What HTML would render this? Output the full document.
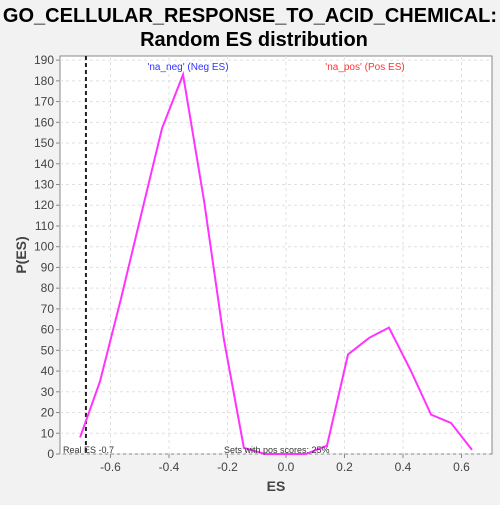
<!DOCTYPE html>
<html><head><meta charset="utf-8"><style>
body{margin:0;background:#f2f2f2;width:500px;height:500px;overflow:hidden;font-family:"Liberation Sans",sans-serif}
</style></head><body>
<svg width="500" height="500">
<text x="250" y="22" text-anchor="middle" font-size="20" font-weight="bold">GO_CELLULAR_RESPONSE_TO_ACID_CHEMICAL:</text>
<text x="254" y="46" text-anchor="middle" font-size="20" font-weight="bold">Random ES distribution</text>
<rect x="60" y="56" width="432" height="398" fill="#fff" stroke="#888"/>
<g id="grid"></g><g id="axes"></g><g id="marks"></g>
<text x="188" y="70" text-anchor="middle" font-size="10" fill="#3333ff">'na_neg' (Neg ES)</text>
<text x="365" y="70" text-anchor="middle" font-size="10" fill="#ff3333">'na_pos' (Pos ES)</text>
<text x="63" y="453" font-size="9" fill="#333">Real ES -0.7</text>
<text x="224" y="453" font-size="9" fill="#333">Sets with pos scores: 25%</text>
<text x="276" y="491" text-anchor="middle" font-size="14" font-weight="bold" fill="#444">ES</text>
<text transform="translate(26,255) rotate(-90)" text-anchor="middle" font-size="14" font-weight="bold" fill="#444">P(ES)</text>
</svg>
<script>
const esValues=[-0.704,-0.636,-0.564,-0.496,-0.424,-0.352,-0.28,-0.212,-0.144,-0.072,0,0.068,0.14,0.212,0.284,0.352,0.424,0.496,0.564,0.636];
const pValues=[8,35,75,115,157,183,122,55,3,0,0,0,4,48,56,61,41,19,15,2];
const xTicks=[-0.6,-0.4,-0.2,0.0,0.2,0.4,0.6];
const yTicks=[0,10,20,30,40,50,60,70,80,90,100,110,120,130,140,150,160,170,180,190];
const realES=-0.684;
const NS="http://www.w3.org/2000/svg";
const X=v=>286+v*292.5, Y=v=>454-v*2.073;
function mk(p,t,a){const e=document.createElementNS(NS,t);for(const k in a)e.setAttribute(k,a[k]);p.appendChild(e);return e;}
const grid=document.getElementById('grid'),axes=document.getElementById('axes'),marks=document.getElementById('marks');
xTicks.forEach(t=>{
 const l=mk(grid,'line',{x1:X(t),x2:X(t),y1:56,y2:454,stroke:'#e0e0e0','stroke-dasharray':'3,3'});
 
 
 mk(axes,'line',{x1:X(t),x2:X(t),y1:454,y2:458,stroke:'#888'});
 const tx=mk(axes,'text',{x:X(t),y:471,'text-anchor':'middle','font-size':12,fill:'#444'});tx.textContent=t.toFixed(1);
 
 
});
yTicks.forEach(t=>{
 const l=mk(grid,'line',{x1:60,x2:492,y1:Y(t),y2:Y(t),stroke:'#e0e0e0','stroke-dasharray':'3,3'});
 
 
 mk(axes,'line',{x1:56,x2:60,y1:Y(t),y2:Y(t),stroke:'#888'});
 const tx=mk(axes,'text',{x:54,y:Y(t)+4,'text-anchor':'end','font-size':12,fill:'#444'});tx.textContent=t;
 
 
});
const rl=mk(marks,'line',{x1:X(realES),x2:X(realES),y1:56,y2:454,stroke:'#222','stroke-width':2,'stroke-dasharray':'4,3'});


const pl=mk(marks,'polyline',{points:esValues.map((v,i)=>X(v)+','+Y(pValues[i])).join(' '),fill:'none',stroke:'#ff33ff','stroke-width':2});


</script>
</body></html>
